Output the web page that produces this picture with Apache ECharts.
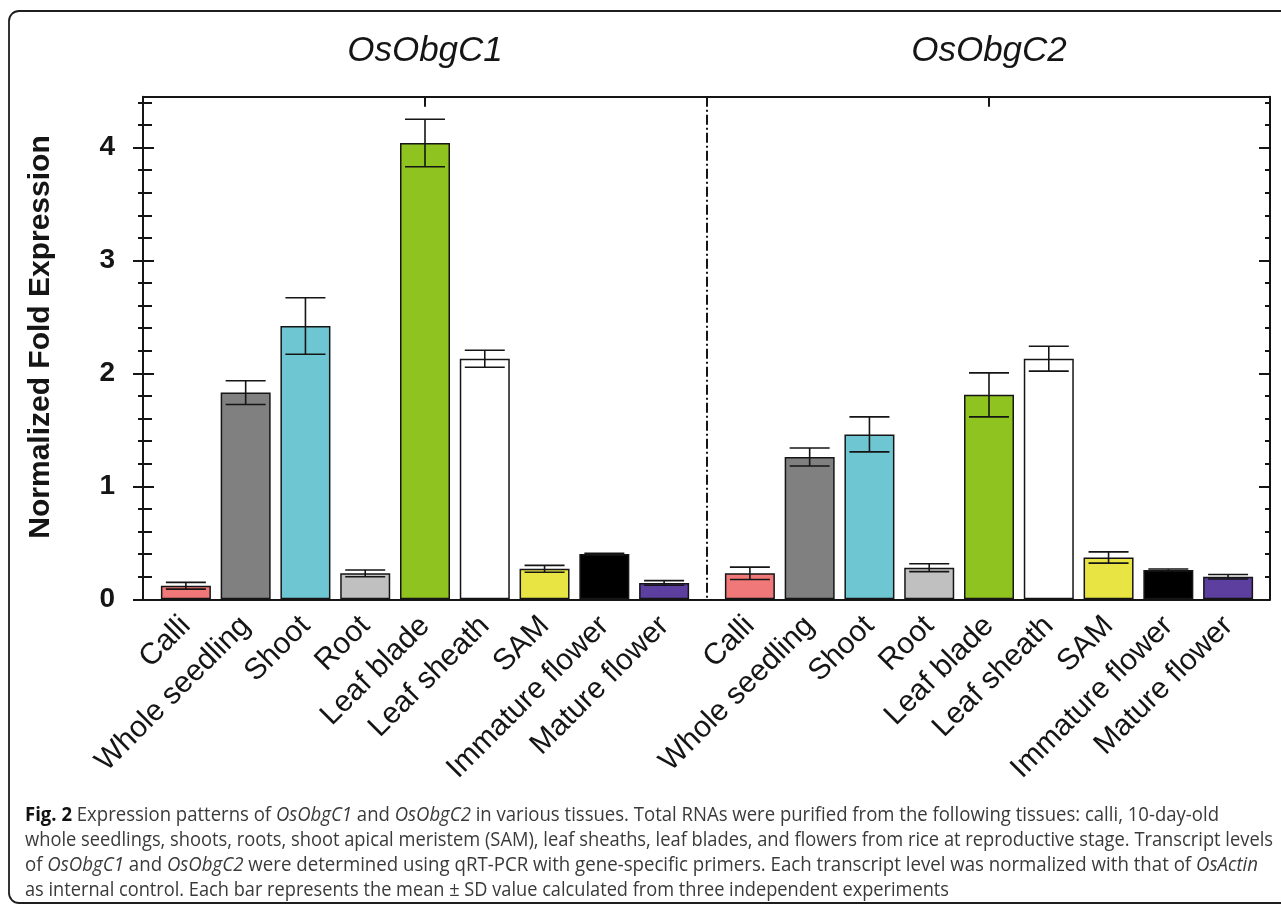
<!DOCTYPE html>
<html><head><meta charset="utf-8">
<script src="https://cdn.jsdelivr.net/npm/echarts@6/dist/echarts.min.js"></script>
<style>html,body{margin:0;padding:0;background:#fff}#c{width:1281px;height:913px}</style>
</head><body><div id="c"></div>
<script>
// ---------- data ----------
const tissues = ['Calli','Whole seedling','Shoot','Root','Leaf blade','Leaf sheath','SAM','Immature flower','Mature flower'];
const genes = ['OsObgC1','OsObgC2'];
const c1Mean = [0.12, 1.83, 2.42, 0.23, 4.04, 2.13, 0.27, 0.40, 0.145];
const c1SD   = [0.03, 0.105, 0.25, 0.03, 0.21, 0.075, 0.03, 0.008, 0.02];
const c2Mean = [0.23, 1.26, 1.46, 0.28, 1.81, 2.13, 0.37, 0.26, 0.20];
const c2SD   = [0.055, 0.08, 0.155, 0.035, 0.195, 0.11, 0.05, 0.008, 0.02];
const tissueColors = ['#f07878','#808080','#6ec6d2','#c0c0c0','#8fc31f','#ffffff','#e8e444','#000000','#5c3f9e'];
const yTicks = [0, 1, 2, 3, 4];
const yAxisTitle = 'Normalized Fold Expression';
const captionLines = [
  '{b|Fig. 2} Expression patterns of {i|OsObgC1} and {i|OsObgC2} in various tissues. Total RNAs were purified from the following tissues: calli, 10-day-old',
  'whole seedlings, shoots, roots, shoot apical meristem (SAM), leaf sheaths, leaf blades, and flowers from rice at reproductive stage. Transcript levels',
  'of {i|OsObgC1} and {i|OsObgC2} were determined using qRT-PCR with gene-specific primers. Each transcript level was normalized with that of {i|OsActin}',
  'as internal control. Each bar represents the mean \u00b1 SD value calculated from three independent experiments'
];

// ---------- layout ----------
const W = 1281, H = 913;
const Y0 = 599.3, UNIT = 112.94, FRAME_TOP = 96.7, PL = 143, PR = 1270;
const yFrameMax = +((Y0 - FRAME_TOP) / UNIT).toFixed(3);
const gBottom = H - Y0;
const panelL = [156, 694], panelR = [720, 1258];
const FONT = '"Liberation Sans", Arial, sans-serif';
const INK = '#151515';
const CAP_X = 25, CAP_Y = 815, CAP_LH = 25;
const capRight = [1219, 1273, 1258, 949];   // right ends of caption lines (layout)

const chart = echarts.init(document.getElementById('c'), null, {renderer: 'canvas'});

function errRender(params, api) {
  const x = api.value(0), lo = api.value(1), hi = api.value(2);
  const a = api.coord([x, hi]), b = api.coord([x, lo]);
  const hw = 20;
  const st = {stroke: INK, lineWidth: 1.6};
  return {type: 'group', children: [
    {type: 'line', shape: {x1: a[0], y1: a[1], x2: b[0], y2: b[1]}, style: st},
    {type: 'line', shape: {x1: a[0] - hw, y1: a[1], x2: a[0] + hw, y2: a[1]}, style: st},
    {type: 'line', shape: {x1: b[0] - hw, y1: b[1], x2: b[0] + hw, y2: b[1]}, style: st}
  ]};
}

const hidden = {show: false};
const lineOn = {show: true, onZero: false, lineStyle: {color: INK, width: 2}};
function valX(grid, pos, showLine) {
  return {type: 'value', gridIndex: grid, position: pos, min: 0, max: 1,
    axisLine: showLine ? lineOn : hidden, axisTick: hidden, axisLabel: hidden, splitLine: hidden};
}
function catXBottom(grid) {
  return {type: 'category', gridIndex: grid, position: 'bottom', data: tissues,
    axisLine: hidden, axisTick: hidden, splitLine: hidden,
    axisLabel: {show: true, interval: 0, rotate: 45, margin: 22, padding: [14, 0, 0, 0],
      fontFamily: FONT, fontSize: 30, color: INK}};
}
function catXTop(grid) {
  return {type: 'category', gridIndex: grid, position: 'top', data: tissues,
    axisLine: hidden, axisLabel: hidden, splitLine: hidden,
    axisTick: {show: true, alignWithLabel: true, inside: true, length: 10,
      interval: function (i) { return i === 4; }, lineStyle: {color: INK, width: 2}}};
}
function yAx(grid, pos, max, interval, tick, label) {
  return {type: 'value', gridIndex: grid, position: pos, min: 0, max: max, interval: interval,
    axisLine: hidden, splitLine: hidden,
    axisTick: tick ? {show: true, inside: tick.inside, length: tick.len, lineStyle: {color: INK, width: 2}} : hidden,
    axisLabel: label ? {show: true, margin: 28, fontFamily: FONT, fontSize: 28, fontWeight: 'bold', color: INK,
      formatter: function (v) { return yTicks.indexOf(v) >= 0 ? String(v) : ''; }} : hidden};
}

// caption: condensed look by scaling each line to its measured extent
const ctx = document.createElement('canvas').getContext('2d');
function richWidth(line) {
  let w = 0;
  const re = /\{([bi])\|([^}]*)\}|([^{]+)/g;
  let m;
  while ((m = re.exec(line))) {
    if (m[1] === 'b') ctx.font = 'bold 20px "Open Sans"';
    else if (m[1] === 'i') ctx.font = 'italic 20px "Open Sans"';
    else ctx.font = '20px "Open Sans"';
    w += ctx.measureText(m[2] !== undefined ? m[2] : m[3]).width;
  }
  return w;
}

const capBase = {fontFamily: '"Open Sans", sans-serif', fontSize: 20, fill: '#3a3a3a'};
const captionEls = captionLines.map(function (t, k) {
  const s = (capRight[k] - CAP_X) / richWidth(t);
  return {type: 'text', x: CAP_X, y: CAP_Y + k * CAP_LH, scaleX: s, z: 10,
    style: Object.assign({}, capBase, {text: t, x: 0, y: 0, verticalAlign: 'middle', textVerticalAlign: 'middle',
      rich: {
        b: Object.assign({}, capBase, {fontWeight: 'bold', fill: '#111'}),
        i: Object.assign({}, capBase, {fontStyle: 'italic'})
      }})};
});

const midL = (panelL[0] + panelL[1]) / 2, midR = (panelR[0] + panelR[1]) / 2;
const divX = (panelL[1] + panelR[0]) / 2;

const option = {
  backgroundColor: '#ffffff',
  animation: false,
  title: genes.map(function (g, k) {
    return {text: g, left: k === 0 ? midL : midR, top: 34, textAlign: 'center', padding: 0,
      textStyle: {fontFamily: FONT, fontStyle: 'italic', fontWeight: 'normal', fontSize: 35, color: INK}};
  }),
  grid: [
    {left: PL, right: W - PR, top: FRAME_TOP, bottom: gBottom},
    {left: PL, right: W - PR, top: Y0 - 4 * UNIT, bottom: gBottom},
    {left: PL, right: W - PR, top: Y0 - 4.4 * UNIT, bottom: gBottom},
    {left: panelL[0], right: W - panelL[1], top: FRAME_TOP, bottom: gBottom},
    {left: panelR[0], right: W - panelR[1], top: FRAME_TOP, bottom: gBottom}
  ],
  xAxis: [
    valX(0, 'bottom', true), valX(0, 'top', true),
    Object.assign(valX(1, 'bottom', false), {show: false}),
    Object.assign(valX(2, 'bottom', false), {show: false}),
    catXBottom(3), catXTop(3), catXBottom(4), catXTop(4)
  ],
  yAxis: [
    {type: 'value', gridIndex: 0, position: 'left', min: 0, max: yFrameMax, axisLine: lineOn, axisTick: hidden, axisLabel: hidden, splitLine: hidden},
    {type: 'value', gridIndex: 0, position: 'right', min: 0, max: yFrameMax, axisLine: lineOn, axisTick: hidden, axisLabel: hidden, splitLine: hidden},
    yAx(1, 'left', 4, 1, {inside: true, len: 11}, true),
    yAx(1, 'left', 4, 1, {inside: false, len: 10}, false),
    yAx(1, 'right', 4, 1, {inside: true, len: 11}, false),
    yAx(2, 'left', 4.4, 0.2, {inside: true, len: 9}, false),
    yAx(2, 'left', 4.4, 0.2, {inside: false, len: 5}, false),
    yAx(2, 'right', 4.4, 0.2, {inside: true, len: 5}, false),
    {type: 'value', gridIndex: 3, min: 0, max: yFrameMax, show: false},
    {type: 'value', gridIndex: 4, min: 0, max: yFrameMax, show: false}
  ],
  series: [
    {type: 'bar', xAxisIndex: 4, yAxisIndex: 8, barWidth: 50,
      itemStyle: {borderColor: INK, borderWidth: 1.5},
      data: c1Mean.map(function (v, i) { return {value: v, itemStyle: {color: tissueColors[i]}}; })},
    {type: 'custom', xAxisIndex: 4, yAxisIndex: 8, z: 5, renderItem: errRender,
      encode: {x: 0, y: [1, 2]},
      data: c1Mean.map(function (v, i) { return [i, v - c1SD[i], v + c1SD[i]]; })},
    {type: 'bar', xAxisIndex: 6, yAxisIndex: 9, barWidth: 50,
      itemStyle: {borderColor: INK, borderWidth: 1.5},
      data: c2Mean.map(function (v, i) { return {value: v, itemStyle: {color: tissueColors[i]}}; })},
    {type: 'custom', xAxisIndex: 6, yAxisIndex: 9, z: 5, renderItem: errRender,
      encode: {x: 0, y: [1, 2]},
      data: c2Mean.map(function (v, i) { return [i, v - c2SD[i], v + c2SD[i]]; })}
  ],
  graphic: [
    {type: 'rect', shape: {x: 9, y: 11, width: 1300, height: 892, r: 10},
      style: {fill: 'none', stroke: '#1e1e1e', lineWidth: 1.8}, z: 0},
    {type: 'line', shape: {x1: divX, y1: FRAME_TOP, x2: divX, y2: Y0},
      style: {stroke: INK, lineWidth: 2, lineDash: [10, 3, 2, 3]}, z: 1},
    {type: 'text', x: 41, y: 337, rotation: Math.PI / 2, z: 10,
      style: {text: yAxisTitle, fontFamily: FONT, fontSize: 30, fontWeight: 'bold', fill: INK,
        align: 'center', verticalAlign: 'middle', textAlign: 'center', textVerticalAlign: 'middle'}}
  ].concat(captionEls)
};
chart.setOption(option);
</script>
</body></html>
